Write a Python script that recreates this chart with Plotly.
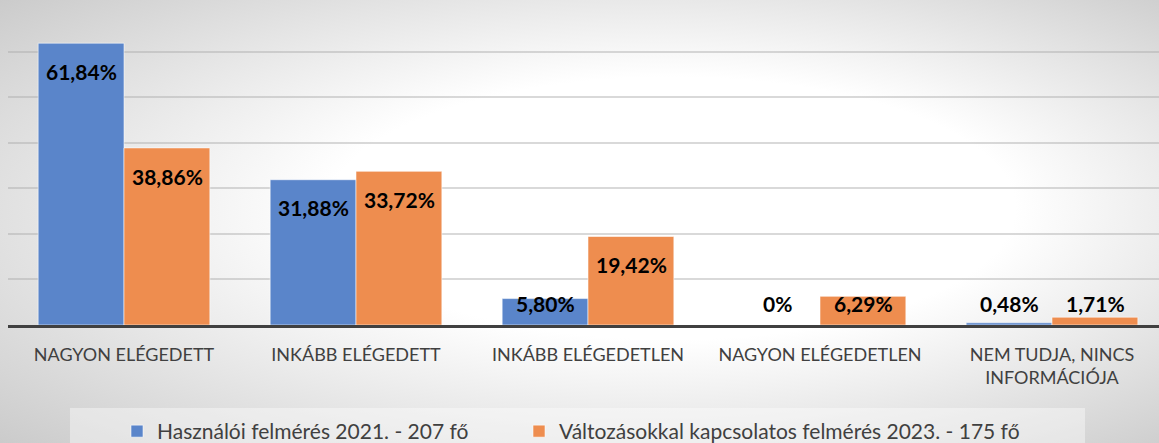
import base64
import plotly.graph_objects as go

categories = ["NAGYON ELÉGEDETT", "INKÁBB ELÉGEDETT", "INKÁBB ELÉGEDETLEN",
              "NAGYON ELÉGEDETLEN", "NEM TUDJA, NINCS<br>INFORMÁCIÓJA"]
series_names = ["Használói felmérés 2021. - 207 fő",
                "Változásokkal kapcsolatos felmérés 2023. - 175 fő"]
values_2021 = [61.84, 31.88, 5.80, 0, 0.48]
values_2023 = [38.86, 33.72, 19.42, 6.29, 1.71]
colors = ["#5A85CA", "#EE8D4F"]

W, H = 1159, 443
ML, MR, MT, MB = 8, 0, 6, 118
PW, PH = W - ML - MR, H - MT - MB
CAT_PX = 232  # pixel width of one category slot

def fmt(v):
    if v == 0:
        return "0%"
    return f"{v:.2f}".replace(".", ",") + "%"

def px_x(p):
    return (p - ML) / PW

def px_y(p):
    return (H - MB - p) / PH

fig = go.Figure()
for name, vals, col, lg in zip(series_names, [values_2021, values_2023], colors,
                               ["legend", "legend2"]):
    fig.add_trace(go.Bar(
        x=categories, y=vals, name=name, legend=lg,
        marker=dict(color=col, line=dict(color="rgba(255,255,255,0.55)", width=1)),
        hoverinfo="skip",
    ))

# data labels (inside end, kept above a minimum height like Excel)
annotations = []
for k, vals in enumerate([values_2021, values_2023]):
    shift = (-1 if k == 0 else 1) * 43
    for i, v in enumerate(vals):
        annotations.append(dict(
            x=i, y=max(v - 6.2, 4.8), xref="x", yref="y", xshift=shift,
            text=fmt(v), showarrow=False,
            font=dict(family="Lato, Carlito, sans-serif", size=21, color="#000000", weight="bold"),
        ))

svg = f'''<svg xmlns="http://www.w3.org/2000/svg" width="{W}" height="{H}" viewBox="0 0 {W} {H}" preserveAspectRatio="none">
<defs><radialGradient id="g" cx="0.52" cy="0.5" r="0.74" fx="0.62" fy="0.45">
<stop offset="0" stop-color="#ffffff"/><stop offset="0.4" stop-color="#ffffff"/>
<stop offset="1" stop-color="#c9c9c9"/></radialGradient></defs>
<rect width="{W}" height="{H}" fill="url(#g)"/></svg>'''
src = "data:image/svg+xml;base64," + base64.b64encode(svg.encode()).decode()

fig.add_layout_image(dict(
    source=src, xref="paper", yref="paper",
    x=px_x(0), y=px_y(0), sizex=W / PW, sizey=H / PH,
    xanchor="left", yanchor="top", sizing="stretch", layer="below",
))

# legend box
fig.add_shape(type="rect", xref="paper", yref="paper",
              x0=px_x(70), x1=px_x(1085), y0=px_y(443), y1=px_y(408),
              fillcolor="rgba(255,255,255,0.4)", line=dict(width=0), layer="below")

leg_common = dict(orientation="h", xanchor="left", yanchor="top", y=px_y(411),
                  font=dict(size=21, color="#404040"), bgcolor="rgba(0,0,0,0)",
                  itemwidth=30)

fig.update_layout(
    width=W, height=H,
    margin=dict(l=ML, r=MR, t=MT, b=MB, autoexpand=False),
    paper_bgcolor="rgba(0,0,0,0)", plot_bgcolor="rgba(0,0,0,0)",
    barmode="group", bargap=0.26, bargroupgap=0,
    font=dict(family="Lato, Carlito, sans-serif", color="#404040"),
    annotations=annotations,
    showlegend=True,
    legend=dict(leg_common, x=px_x(117)),
    legend2=dict(leg_common, x=px_x(519)),
    xaxis=dict(
        range=[-0.5, -0.5 + PW / CAT_PX],
        showline=True, linecolor="#404040", linewidth=3,
        ticks="outside", ticklen=11, tickcolor="rgba(0,0,0,0)",
        tickfont=dict(size=18, color="#404040"), showgrid=False,
    ),
    yaxis=dict(
        range=[0, 70], dtick=10, showticklabels=False,
        showgrid=True, gridcolor="rgba(170,170,170,0.45)", gridwidth=2,
        zeroline=False, showline=False,
    ),
)

fig.write_html("out.html", config={"displayModeBar": False},
               post_script="document.body.style.margin='0';")
